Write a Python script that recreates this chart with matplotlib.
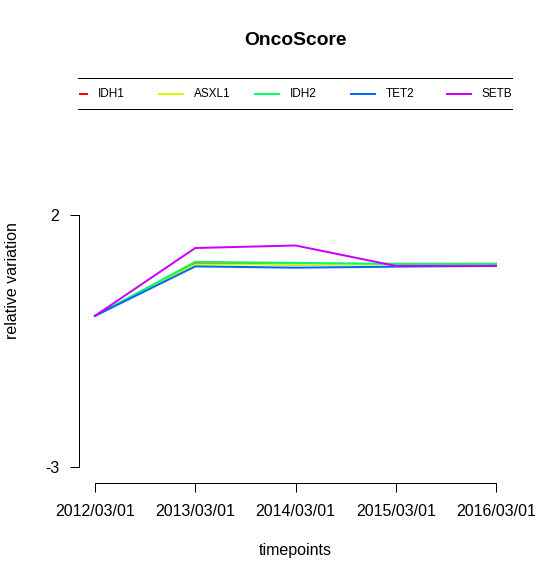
import matplotlib
matplotlib.use("Agg")
import matplotlib.pyplot as plt
from matplotlib.lines import Line2D

plt.rcParams['font.family'] = ['Liberation Sans', 'DejaVu Sans']

# ---- data ----
timepoints = ["2012/03/01", "2013/03/01", "2014/03/01", "2015/03/01", "2016/03/01"]
genes = ["IDH1", "ASXL1", "IDH2", "TET2", "SETBP1"]
colors = ["#FF0000", "#CCFF00", "#00FF66", "#0066FF", "#CC00FF"]
idh1 = [0.0, 1.04, 1.02, 1.03, 1.03]
asxl1 = [0.0, 1.02, 1.02, 1.02, 1.02]
idh2 = [0.0, 1.07, 1.05, 1.03, 1.03]
tet2 = [0.0, 0.98, 0.955, 0.975, 0.99]
setbp1 = [0.0, 1.345, 1.395, 0.99, 0.99]
series = [idh1, asxl1, idh2, tet2, setbp1]
yticks = [-3, 2]

W, H = 552, 581
DPI = 72
fig = plt.figure(figsize=(W / DPI, H / DPI), dpi=DPI)

# plot region in pixels
L, R, T, B = 79, 512, 79, 483
ax = fig.add_axes([L / W, 1 - B / H, (R - L) / W, (B - T) / H])

x = list(range(len(timepoints)))
for vals, c in zip(series, colors):
    ax.plot(x, vals, color=c, lw=2, solid_joinstyle='miter')

ax.set_xlim(-0.16, 4.16)
ax.set_ylim(-3.317, 4.698)

for s in ["top", "right"]:
    ax.spines[s].set_visible(False)
ax.spines["left"].set_bounds(yticks[0], yticks[-1])
ax.spines["bottom"].set_bounds(x[0], x[-1])
for s in ["left", "bottom"]:
    ax.spines[s].set_linewidth(1)
    ax.spines[s].set_color("black")

ax.set_xticks(x)
ax.set_xticklabels(timepoints)
ax.set_yticks(yticks)
ax.set_yticklabels([str(v) for v in yticks])
ax.tick_params(axis='both', length=9, width=1, labelsize=16, color='black')
ax.tick_params(axis='x', pad=12)
ax.tick_params(axis='y', pad=11)

# ---- legend (clipped, horizontal, lines above and below) ----
def fx(px):
    return (px - L) / (R - L)

def fy(py):
    return (B - py) / (B - T)

for py in (78, 109):
    ax.add_line(Line2D([fx(78), fx(512)], [fy(py), fy(py)], transform=ax.transAxes,
                       color='black', lw=1, clip_on=False))
step = 96
for i, (g, c) in enumerate(zip(genes, colors)):
    x0 = 63 + step * i
    ln = Line2D([fx(x0), fx(x0 + 24)], [fy(94), fy(94)], transform=ax.transAxes,
                color=c, lw=2, clip_on=True)
    ax.add_line(ln)
    ax.text(fx(x0 + 35), fy(94), g, transform=ax.transAxes, fontsize=11.7,
            ha='left', va='center', clip_on=True)

fig.text((L + R) / 2 / W, 1 - 40.5 / H, "OncoScore", ha='center', va='center',
         fontsize=19.2, fontweight='bold')
fig.text((L + R) / 2 / W, 1 - 551 / H, "timepoints", ha='center', va='center', fontsize=16)
fig.text(13 / W, 1 - 281 / H, "relative variation", ha='center', va='center',
         fontsize=16, rotation=90)

fig.savefig("out.png", dpi=DPI)
